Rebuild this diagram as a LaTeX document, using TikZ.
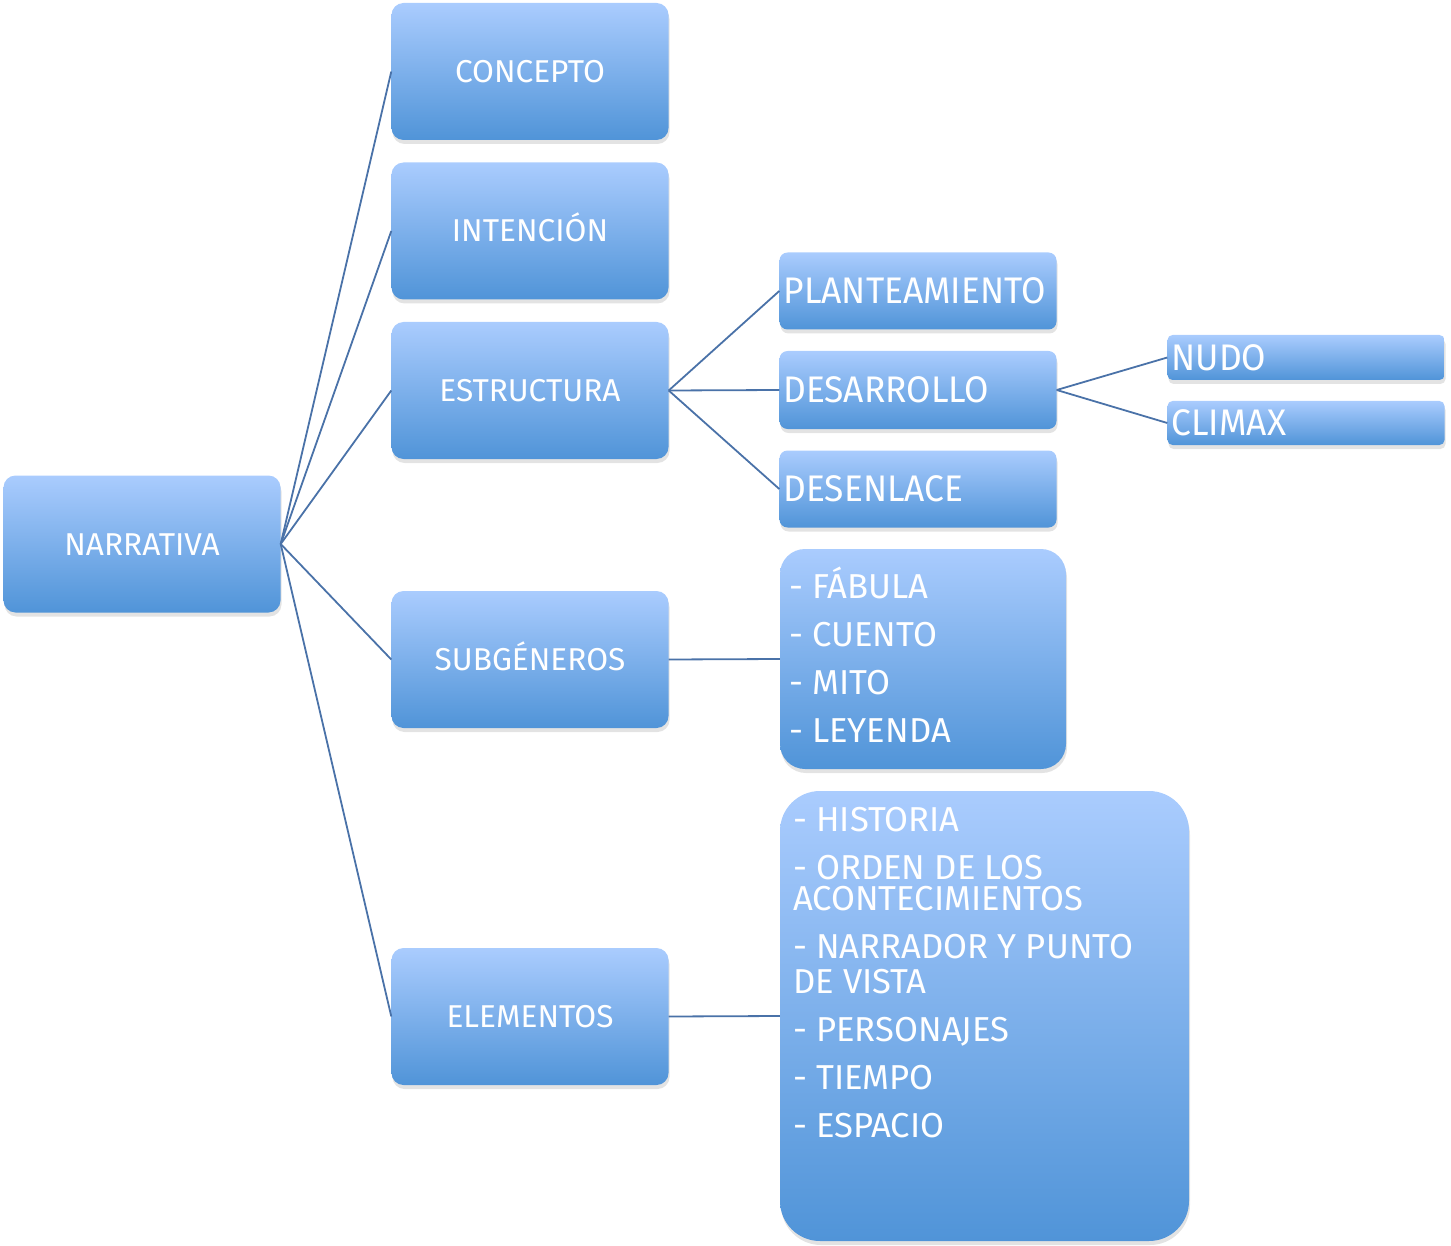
\documentclass[tikz,border=0pt]{standalone}
\usepackage{fontspec}
\setmainfont{Fira Sans}
\usetikzlibrary{shadows}
\definecolor{topc}{RGB}{170,204,254}
\definecolor{botc}{RGB}{80,148,216}
\definecolor{linec}{RGB}{74,114,168}
\begin{document}
\begin{tikzpicture}[x=1pt,y=-1pt,
  box/.style={rectangle, rounded corners=12pt, top color=topc, bottom color=botc,
    draw=none, text=white, inner sep=0pt,
    drop shadow={shadow xshift=1pt, shadow yshift=-4pt, opacity=0.22}},
  big/.style={box, minimum width=277pt, minimum height=137pt,
    text height=22pt, text depth=0pt,
    font=\fontsize{31.6}{37}\selectfont},
  subbox/.style={box, rounded corners=8pt, minimum width=277pt,
    text width=269pt, inner xsep=4pt, align=left,
    font=\fontsize{37}{40}\selectfont},
  listbox/.style={box},
  item/.style={anchor=base west, inner sep=0pt, text=white,
    font=\fontsize{34.6}{40}\selectfont},
  conn/.style={draw=linec, line width=1.8pt}]
\useasboundingbox (0,0) rectangle (1451,1246);

% main level
\node[big] (nar) at (142,544) {NARRATIVA};
\node[big] (con) at (530,71.5) {CONCEPTO};
\node[big] (int) at (530,231) {INTENCIÓN};
\node[big] (est) at (530,390.5) {ESTRUCTURA};
\node[big] (sub) at (530,659.5) {SUBGÉNEROS};
\node[big] (ele) at (530,1016.5) {ELEMENTOS};

% structure
\node[subbox, minimum height=77pt] (pla) at (918,291) {\scalebox{0.955}[1]{PLANTEAMIENTO}};
\node[subbox, minimum height=78pt] (des) at (918,390) {\scalebox{0.955}[1]{DESARROLLO}};
\node[subbox, minimum height=77pt] (dsl) at (918,489) {\scalebox{0.955}[1]{DESENLACE}};
\node[subbox, minimum height=45pt, rounded corners=5pt] (nud) at (1306,357.5) {\scalebox{0.955}[1]{NUDO}};
\node[subbox, minimum height=44pt, rounded corners=5pt] (cli) at (1306,423) {\scalebox{0.955}[1]{CLIMAX}};

% subgeneros list
\node[listbox, rounded corners=25pt, minimum width=286pt, minimum height=220pt] (sgl) at (923,659) {};
\node[item] (sg1) at (789,598) {- FÁBULA};
\node[item] (sg2) at (789,646) {- CUENTO};
\node[item] (sg3) at (789,694) {- MITO};
\node[item] (sg4) at (789,742) {- LEYENDA};

% elementos list
\node[listbox, rounded corners=40pt, minimum width=409pt, minimum height=450pt] (ell) at (984.5,1016) {};
\node[item] (el1) at (793,831) {- HISTORIA};
\node[item] (el2) at (793,879) {- ORDEN DE LOS};
\node[item] (el3) at (793,910) {ACONTECIMIENTOS};
\node[item] (el4) at (793,958) {- NARRADOR Y PUNTO};
\node[item] (el5) at (793,993) {DE VISTA};
\node[item] (el6) at (793,1041) {- PERSONAJES};
\node[item] (el7) at (793,1089) {- TIEMPO};
\node[item] (el8) at (793,1137) {- ESPACIO};

% connectors
\foreach \t in {con,int,est,sub,ele} \draw[conn] (nar.east) -- (\t.west);
\foreach \t in {pla,des,dsl} \draw[conn] (est.east) -- (\t.west);
\foreach \t in {nud,cli} \draw[conn] (des.east) -- (\t.west);
\draw[conn] (sub.east) -- (sgl.west);
\draw[conn] (ele.east) -- (ell.west);
\end{tikzpicture}
\end{document}
